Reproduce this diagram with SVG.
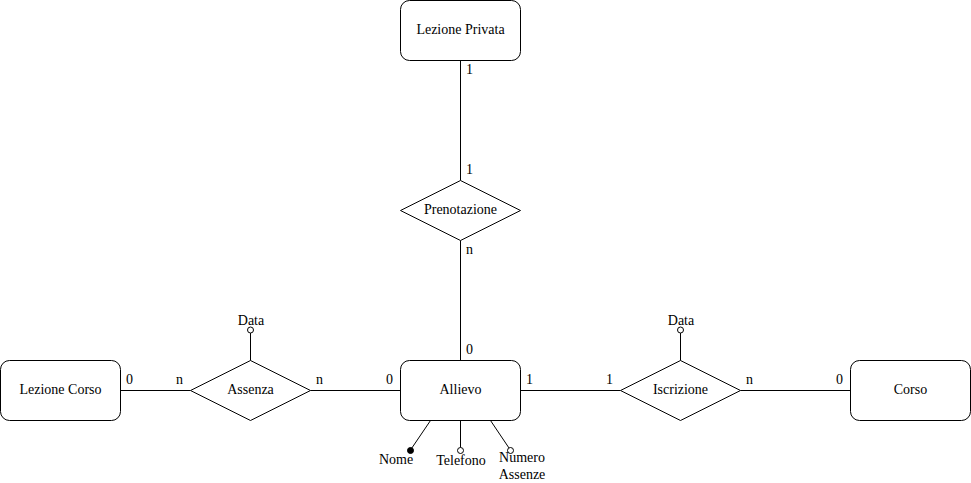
<svg xmlns="http://www.w3.org/2000/svg" width="971" height="483" viewBox="0 0 971 483">
<style>
.e{fill:#fff;stroke:#000;stroke-width:1}
.l{fill:none;stroke:#000;stroke-width:1}
text{font-family:"Liberation Serif","Times New Roman",serif;font-size:14px;fill:#000}
.c{text-anchor:middle}
.o{fill:#fff;stroke:#000;stroke-width:1}
</style>
<rect width="971" height="483" fill="#fff"/>
<g id="connectors">
<path class="l" d="M460.5 60.5V180.5"/>
<path class="l" d="M460.5 240.5V360.5"/>
<path class="l" d="M120.5 390.5H190.5"/>
<path class="l" d="M310.5 390.5H400.5"/>
<path class="l" d="M520.5 390.5H620.5"/>
<path class="l" d="M740.5 390.5H850.5"/>
<text x="466" y="74">1</text>
<text x="466" y="174">1</text>
<text x="466" y="254">n</text>
<text x="466" y="354">0</text>
<text x="126" y="384">0</text>
<text x="176" y="384">n</text>
<text x="316" y="384">n</text>
<text x="386" y="384">0</text>
<text x="526" y="384">1</text>
<text x="606" y="384">1</text>
<text x="746" y="384">n</text>
<text x="836" y="384">0</text>
</g>
<g id="lezione-privata">
<rect class="e" x="400.5" y="0.5" width="120" height="60" rx="9"/>
<text class="c" x="460.5" y="34">Lezione Privata</text>
</g>
<g id="prenotazione">
<path class="e" d="M460.5 180.5L520.5 210.5L460.5 240.5L400.5 210.5Z"/>
<text class="c" x="460.5" y="214">Prenotazione</text>
</g>
<g id="allievo">
<rect class="e" x="400.5" y="360.5" width="120" height="60" rx="9"/>
<text class="c" x="460.5" y="394">Allievo</text>
</g>
<g id="lezione-corso">
<rect class="e" x="0.5" y="360.5" width="120" height="60" rx="9"/>
<text class="c" x="60.5" y="394">Lezione Corso</text>
</g>
<g id="assenza">
<path class="e" d="M250.5 360.5L310.5 390.5L250.5 420.5L190.5 390.5Z"/>
<text class="c" x="250.5" y="394">Assenza</text>
</g>
<g id="iscrizione">
<path class="e" d="M680.5 360.5L740.5 390.5L680.5 420.5L620.5 390.5Z"/>
<text class="c" x="680.5" y="394">Iscrizione</text>
</g>
<g id="corso">
<rect class="e" x="850.5" y="360.5" width="120" height="60" rx="9"/>
<text class="c" x="910.5" y="394">Corso</text>
</g>
<g id="assenza-data">
<path class="l" d="M250.5 360.5V333"/>
<circle class="o" cx="250.5" cy="330" r="3"/>
<text class="c" x="251" y="325">Data</text>
</g>
<g id="iscrizione-data">
<path class="l" d="M680.5 360.5V333"/>
<circle class="o" cx="680.5" cy="330" r="3"/>
<text class="c" x="681" y="325">Data</text>
</g>
<g id="allievo-nome">
<path class="l" d="M430.5 420.5L410.5 450"/>
<circle cx="410.5" cy="450.5" r="3" fill="#000" stroke="#000"/>
<text class="c" x="396" y="464">Nome</text>
</g>
<g id="allievo-telefono">
<path class="l" d="M460.5 420.5V447.5"/>
<circle class="o" cx="460.5" cy="450.5" r="3"/>
<text class="c" x="461" y="465">Telefono</text>
</g>
<g id="allievo-numero-assenze">
<path class="l" d="M490.5 420.5L509 448"/>
<circle class="o" cx="510.5" cy="450.5" r="3"/>
<text class="c" x="522" y="462">Numero</text>
<text class="c" x="522" y="479">Assenze</text>
</g>
</svg>
